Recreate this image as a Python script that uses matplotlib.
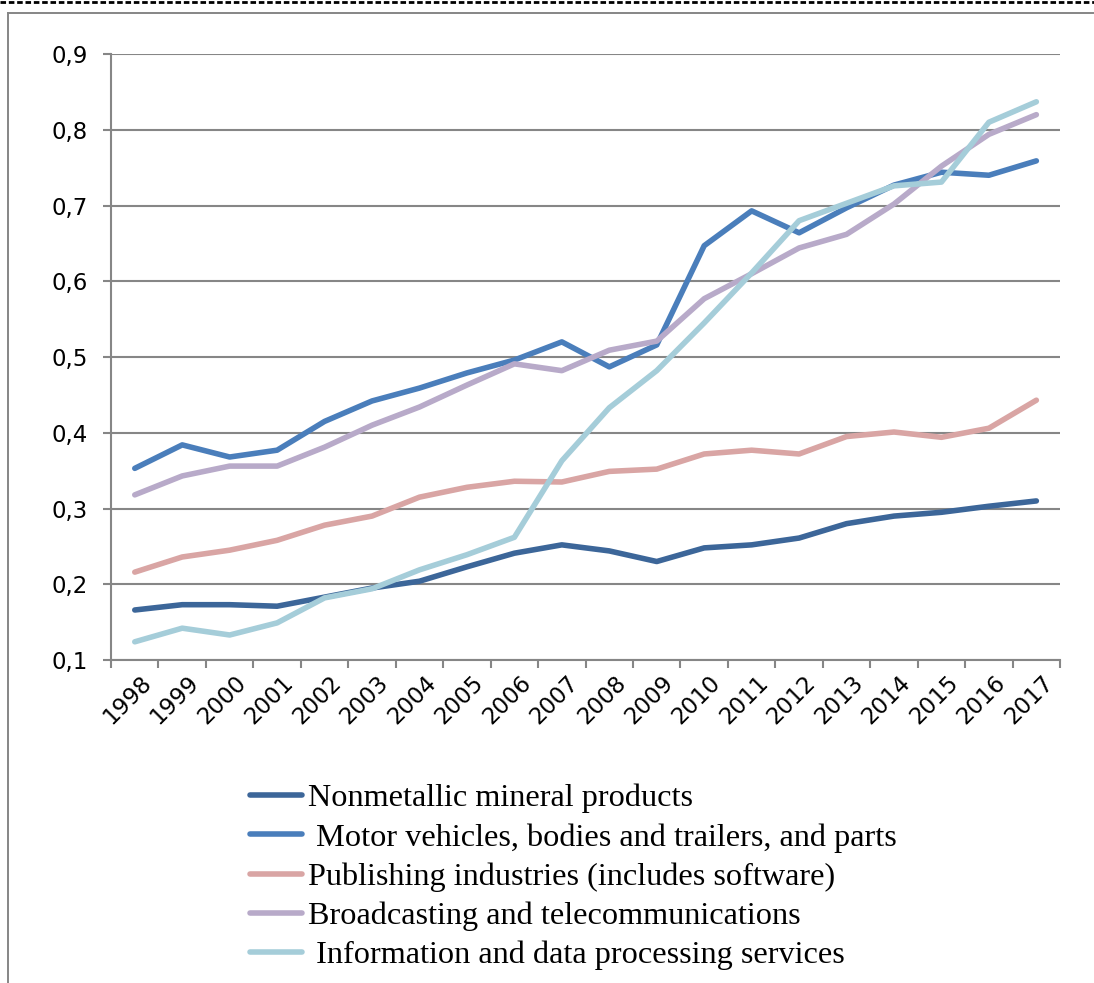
import numpy as np
import matplotlib.pyplot as plt
import matplotlib.transforms as mtransforms
from matplotlib.lines import Line2D
from matplotlib.ticker import FuncFormatter

# data
years = [str(y) for y in range(1998, 2018)]

nonmetallic = [0.166, 0.173, 0.173, 0.171, 0.183, 0.195, 0.204, 0.223, 0.241, 0.252,
               0.244, 0.230, 0.248, 0.252, 0.261, 0.280, 0.290, 0.295, 0.303, 0.310]
motor = [0.353, 0.384, 0.368, 0.377, 0.415, 0.442, 0.459, 0.479, 0.496, 0.520,
         0.487, 0.516, 0.647, 0.693, 0.664, 0.697, 0.727, 0.744, 0.740, 0.759]
publishing = [0.216, 0.236, 0.245, 0.258, 0.278, 0.290, 0.315, 0.328, 0.336, 0.335,
              0.349, 0.352, 0.372, 0.377, 0.372, 0.395, 0.401, 0.394, 0.406, 0.443]
broadcasting = [0.318, 0.343, 0.356, 0.356, 0.381, 0.410, 0.434, 0.463, 0.491, 0.482,
                0.509, 0.521, 0.577, 0.610, 0.644, 0.662, 0.702, 0.752, 0.794, 0.820]
info = [0.124, 0.142, 0.133, 0.149, 0.182, 0.194, 0.219, 0.239, 0.262, 0.363,
        0.433, 0.482, 0.545, 0.611, 0.680, 0.703, 0.726, 0.731, 0.810, 0.837]

labels = ["Nonmetallic mineral products",
          " Motor vehicles, bodies and trailers, and parts",
          "Publishing industries (includes software)",
          "Broadcasting and telecommunications",
          " Information and data processing services"]
colors = ["#3C6699", "#4A7EBB", "#D9A5A4", "#B8AAC9", "#A5CDD9"]

fig = plt.figure(figsize=(10.94, 9.83), dpi=100)
ax = fig.add_axes([0.1015, 0.3286, 0.8675, 0.6164])

x = np.arange(len(years))
series = [nonmetallic, motor, publishing, broadcasting, info]
for vals, lab, col in zip(series, labels, colors):
    ax.plot(x, vals, color=col, lw=4.0, label=lab, solid_capstyle="round",
            solid_joinstyle="round")

grid_col = "#868686"
ax.set_xlim(-0.5, len(years) - 0.5)
ax.set_ylim(0.1, 0.9)
ax.set_yticks(np.arange(0.1, 0.91, 0.1))
ax.yaxis.set_major_formatter(FuncFormatter(lambda v, p: f"{v:.1f}".replace(".", ",")))
ax.grid(axis="y", color=grid_col, lw=1.5)
ax.set_axisbelow(True)

ax.set_xticks(x)
ax.set_xticklabels(years, rotation=45, ha="right", rotation_mode="anchor")
ax.set_xticks(np.arange(-0.5, len(years), 1.0), minor=True)
ax.tick_params(axis="x", which="major", length=0, pad=8, labelsize=16.5)
ax.tick_params(axis="x", which="minor", length=6, width=1.5, color=grid_col, direction="out")
ax.tick_params(axis="y", length=6, width=1.5, color=grid_col, pad=11, labelsize=16.5)

# nudge the rotated year labels a little to the right
shift = mtransforms.ScaledTranslation(5 / 100, 0, fig.dpi_scale_trans)
for t in ax.get_xticklabels():
    t.set_transform(t.get_transform() + shift)

for s in ["top", "right"]:
    ax.spines[s].set_visible(False)
for s in ["left", "bottom"]:
    ax.spines[s].set_color(grid_col)
    ax.spines[s].set_linewidth(1.5)

fig.legend(loc="upper left", bbox_to_anchor=(0.2285, 0.2025), frameon=False,
           prop={"family": "Liberation Serif", "size": 23.2},
           handlelength=1.6, handletextpad=0.19, labelspacing=0.30, borderpad=0,
           borderaxespad=0)

# outer frame like the source document
fig.add_artist(Line2D([0, 1], [1 - 2 / 983] * 2, color="black", lw=2, ls=(0, (2, 1))))
fig.add_artist(Line2D([8 / 1094, 1], [1 - 13 / 983] * 2, color=grid_col, lw=1.4))
fig.add_artist(Line2D([8 / 1094] * 2, [0, 1 - 13 / 983], color=grid_col, lw=1.4))

plt.savefig("out.png", dpi=100)
